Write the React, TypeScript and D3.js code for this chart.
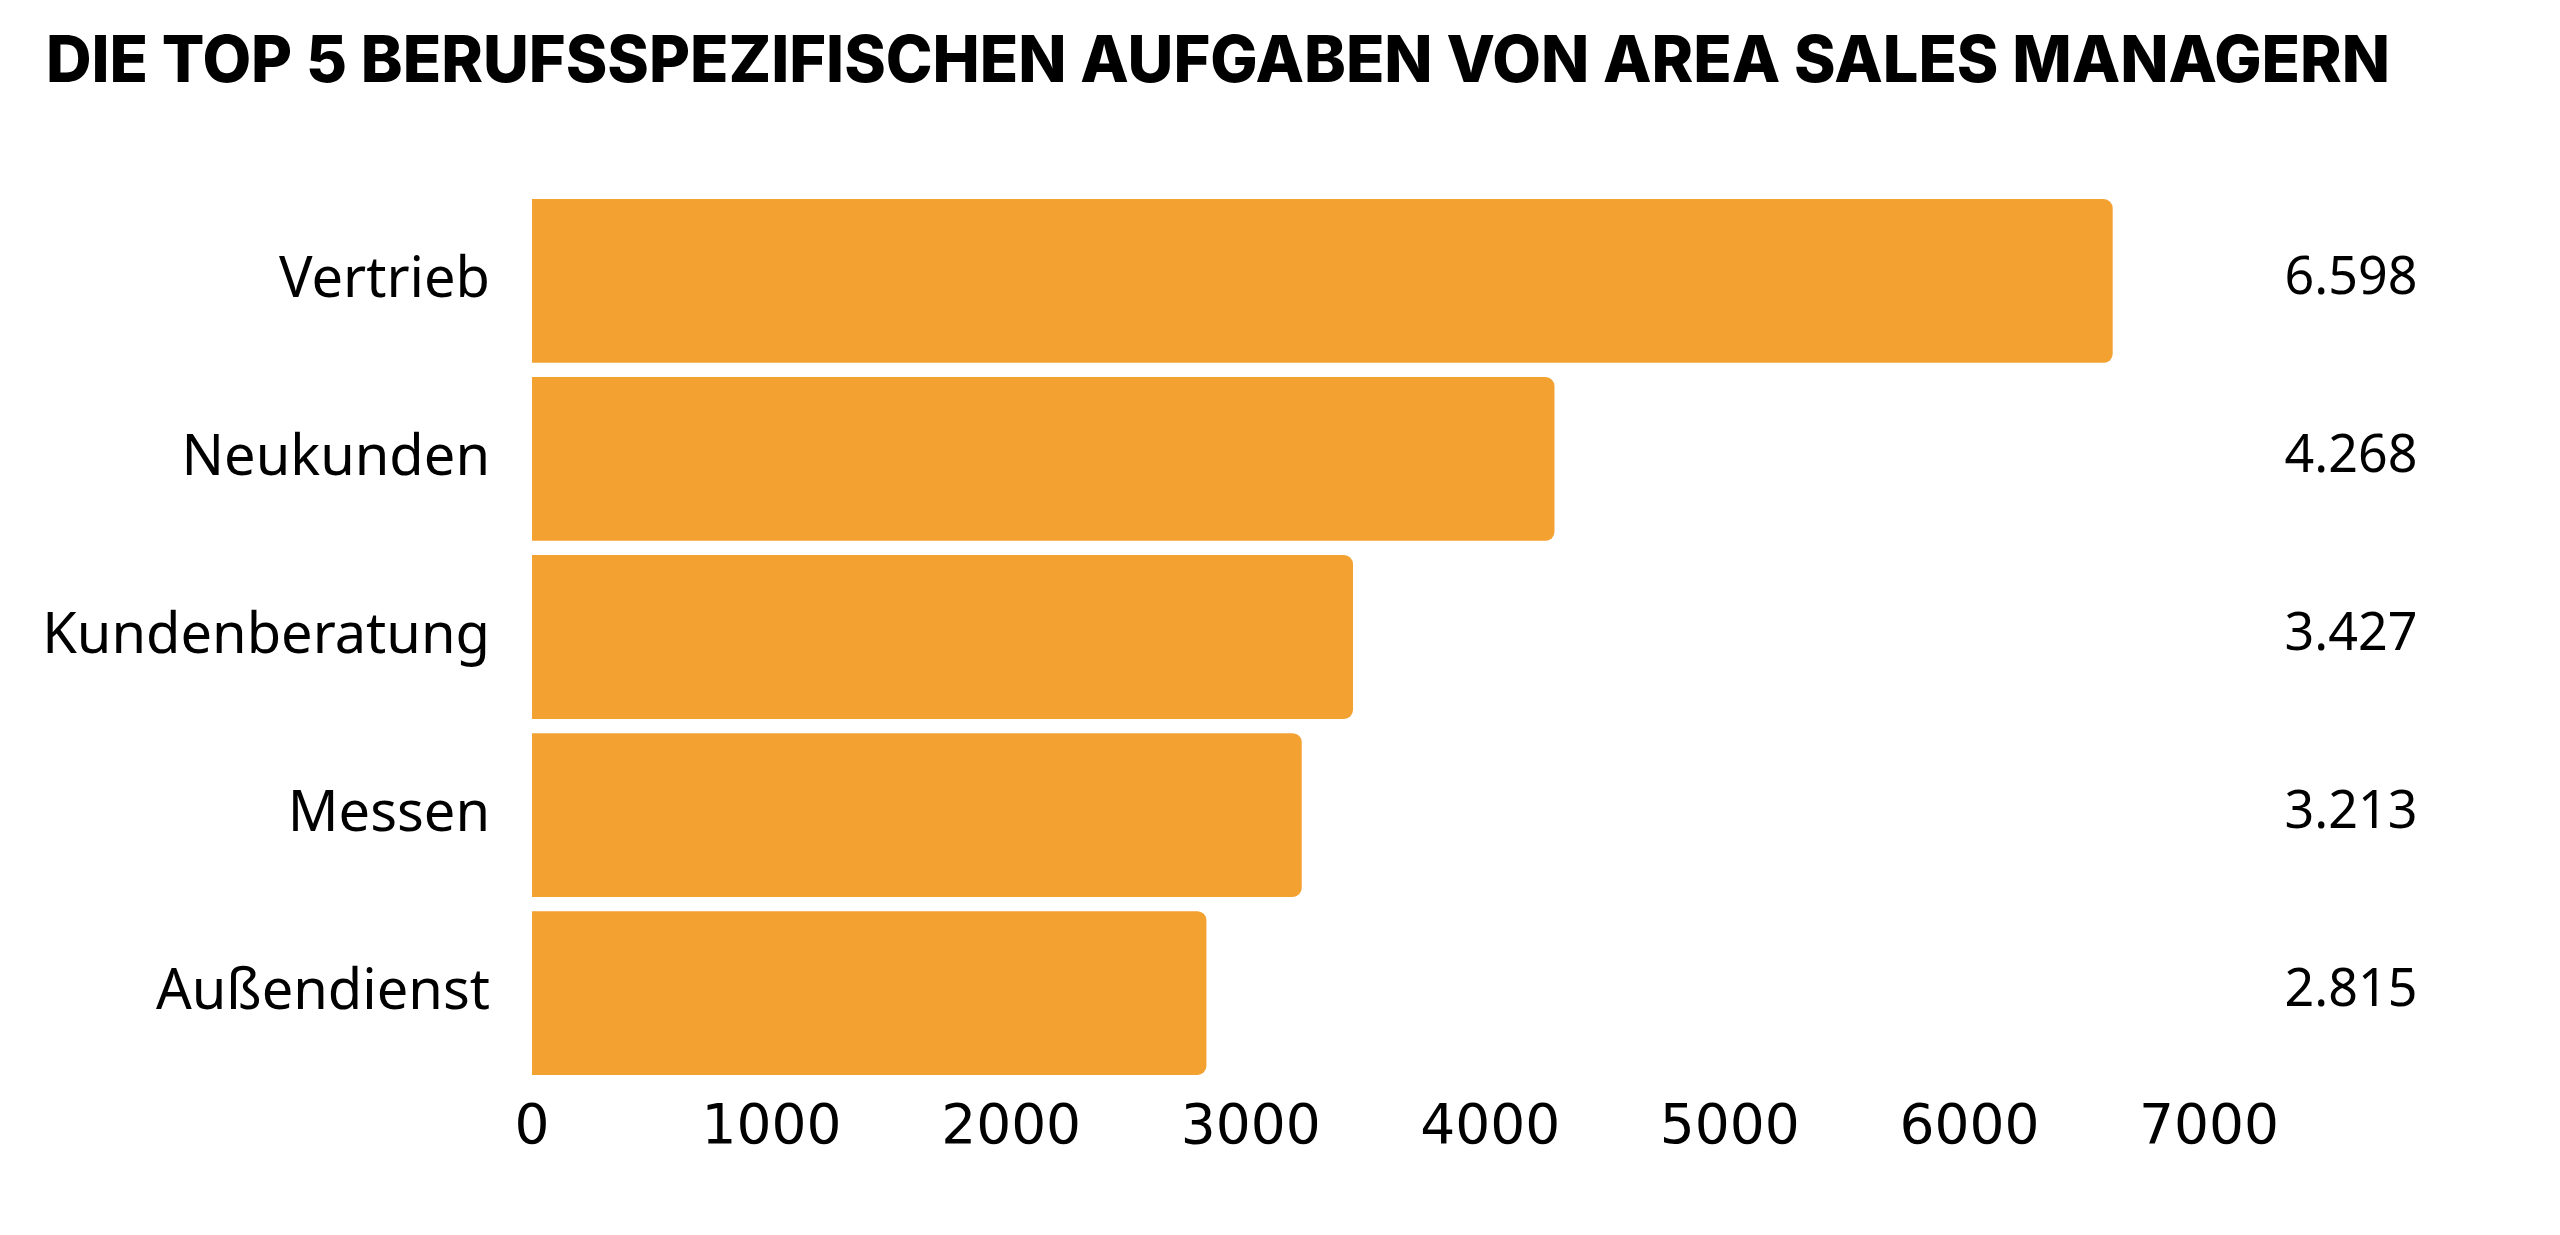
import React from "react";
import * as d3 from "d3";

const title = "DIE TOP 5 BERUFSSPEZIFISCHEN AUFGABEN VON AREA SALES MANAGERN";
const categories = ["Vertrieb", "Neukunden", "Kundenberatung", "Messen", "Außendienst"];
const values = [6598, 4268, 3427, 3213, 2815];
const ticks = [0, 1000, 2000, 3000, 4000, 5000, 6000, 7000];

const W = 2560;
const H = 1235;
const BAR_COLOR = "#F3A131";

export default function App() {
  const x = d3.scaleLinear().domain([0, 7000]).range([532, 2209]);
  const y = d3.scaleBand<string>().domain(categories).range([199, 1075]).paddingInner(0.08).paddingOuter(0);
  const fmt = (v: number) => d3.format(",")(v).replace(/,/g, ".");
  const r = 9;

  const barPath = (v: number, c: string) => {
    const x0 = x(0);
    const x1 = x(v);
    const y0 = y(c) as number;
    const h = y.bandwidth();
    const p = d3.path();
    p.moveTo(x0, y0);
    p.lineTo(x1 - r, y0);
    p.arcTo(x1, y0, x1, y0 + r, r);
    p.lineTo(x1, y0 + h - r);
    p.arcTo(x1, y0 + h, x1 - r, y0 + h, r);
    p.lineTo(x0, y0 + h);
    p.closePath();
    return p.toString();
  };

  return (
    <div style={{ position: "absolute", left: 0, top: 0, width: W, height: H, background: "#fff" }}>
      <svg width={W} height={H} viewBox={`0 0 ${W} ${H}`} style={{ display: "block" }}>
        <rect x={0} y={0} width={W} height={H} fill="#ffffff" />
        <text
          x={46}
          y={82}
          fontFamily="Inter, 'Liberation Sans', sans-serif"
          fontWeight={800}
          fontSize={64}
          fill="#000"
          textLength={2344}
          lengthAdjust="spacingAndGlyphs"
        >
          {title}
        </text>
        {categories.map((c, i) => {
          const cy = (y(c) as number) + y.bandwidth() / 2;
          return (
            <g key={c}>
              <path d={barPath(values[i], c)} fill={BAR_COLOR} />
              <text
                x={490}
                y={cy + 16}
                textAnchor="end"
                fontFamily="'Noto Sans', sans-serif"
                fontSize={56}
                fill="#000"
              >
                {c}
              </text>
              <text
                x={2351}
                y={cy + 13}
                textAnchor="middle"
                fontFamily="'Noto Sans', sans-serif"
                fontSize={52}
                fill="#000"
              >
                {fmt(values[i])}
              </text>
            </g>
          );
        })}
        {ticks.map((t) => (
          <text
            key={t}
            x={x(t)}
            y={1143}
            textAnchor="middle"
            fontFamily="'DejaVu Sans', sans-serif"
            fontSize={55}
            fill="#000"
          >
            {t}
          </text>
        ))}
      </svg>
    </div>
  );
}
